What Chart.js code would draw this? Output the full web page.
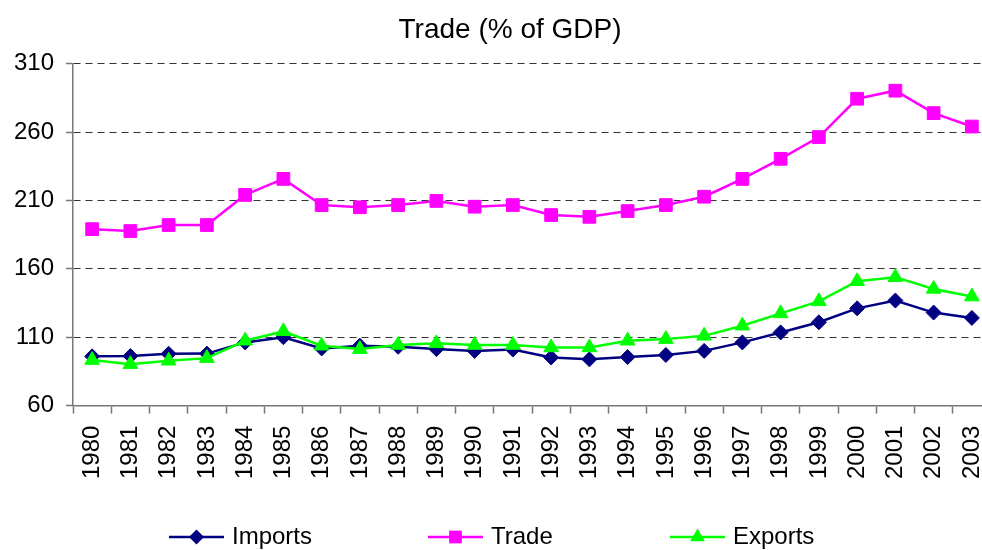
<!DOCTYPE html>
<html>
<head>
<meta charset="utf-8">
<script src="https://cdn.jsdelivr.net/npm/chart.js@4"></script>
<style>
  html, body { margin: 0; padding: 0; background: #fff; overflow: hidden; }
  #wrap { position: relative; width: 991px; height: 550px; }
</style>
</head>
<body>
<div id="wrap"><canvas id="c"></canvas></div>
<script>
const chartTitle = 'Trade (% of GDP)';
const years = ['1980','1981','1982','1983','1984','1985','1986','1987','1988','1989','1990','1991',
               '1992','1993','1994','1995','1996','1997','1998','1999','2000','2001','2002','2003'];
const imports = [96, 96.2, 97.9, 98, 106.2, 110, 101.8, 103.8, 103, 101.3, 100, 101,
                 95.2, 93.8, 95.5, 97, 100, 106.2, 113.5, 120.9, 131.1, 136.8, 128, 124.1];
const trade = [189, 187.6, 192, 192, 214, 225.7, 206.6, 205, 206.6, 209.6, 205.4, 206.6,
               199.3, 198, 202.2, 206.6, 212.7, 225.7, 240.4, 256.3, 284.3, 290.2, 273.8, 264];
const exports_ = [93.3, 90.3, 92.8, 94.7, 107.4, 114.3, 103.8, 101.3, 104.3, 105.5, 104.3, 104.3,
                  102.5, 102.5, 107.4, 108.6, 111, 118.4, 127.4, 136.2, 150.9, 153.9, 145.3, 139.7];
const seriesNames = ['Imports', 'Trade', 'Exports'];
const yTicks = [60, 110, 160, 210, 260, 310];

const FONT = '"Liberation Sans", Arial, sans-serif';

function drawMarker(ctx, style, x, y, r, color) {
  ctx.save();
  ctx.fillStyle = color;
  ctx.beginPath();
  if (style === 'rectRot') {
    ctx.moveTo(x, y - r); ctx.lineTo(x + r, y); ctx.lineTo(x, y + r); ctx.lineTo(x - r, y);
  } else if (style === 'rect') {
    const s = r * Math.SQRT1_2;
    ctx.rect(x - s, y - s, 2 * s, 2 * s);
  } else {
    ctx.moveTo(x, y - r);
    ctx.lineTo(x + r * Math.sin(2 * Math.PI / 3), y + r / 2);
    ctx.lineTo(x - r * Math.sin(2 * Math.PI / 3), y + r / 2);
  }
  ctx.closePath();
  ctx.fill();
  ctx.restore();
}

const legendPlugin = {
  id: 'lineLegend',
  afterLayout(chart) {
    // let the y tick labels extend into the left padding without being clipped
    const y = chart.scales.y;
    if (y) { y.left = 0; }
  },
  afterDraw(chart) {
    const ctx = chart.ctx;
    const cy = 537;
    const lineStarts = [169, 428, 670];
    const lineLen = 55;
    chart.data.datasets.forEach((ds, i) => {
      const x0 = lineStarts[i];
      ctx.save();
      ctx.strokeStyle = ds.borderColor;
      ctx.lineWidth = 2.5;
      ctx.beginPath();
      ctx.moveTo(x0, cy);
      ctx.lineTo(x0 + lineLen, cy);
      ctx.stroke();
      ctx.restore();
      drawMarker(ctx, ds.pointStyle, x0 + lineLen / 2, cy, ds.pointRadius, ds.borderColor);
      ctx.save();
      ctx.fillStyle = '#000';
      ctx.font = '24px ' + FONT;
      ctx.textBaseline = 'middle';
      ctx.textAlign = 'left';
      ctx.fillText(ds.label, x0 + lineLen + 8, cy);
      ctx.restore();
    });
  }
};

const colors = ['#000080', '#FF00FF', '#00FF00'];
const styles = ['rectRot', 'rect', 'triangle'];
const radii = [7.5, 9, 8.5];
const values = [imports, trade, exports_];
const orders = [2, 1, 0];

Chart.defaults.font.family = FONT;
Chart.defaults.color = '#000';

new Chart(document.getElementById('c'), {
  type: 'line',
  data: {
    labels: years,
    datasets: seriesNames.map((name, i) => ({
      label: name,
      data: values[i],
      borderColor: colors[i],
      backgroundColor: colors[i],
      pointBackgroundColor: colors[i],
      pointBorderColor: colors[i],
      pointStyle: styles[i],
      pointRadius: radii[i],
      pointHoverRadius: radii[i],
      pointBorderWidth: 1,
      borderWidth: 2.5,
      tension: 0,
      fill: false,
      order: orders[i]
    }))
  },
  options: {
    responsive: true,
    maintainAspectRatio: false,
    animation: false,
    layout: { autoPadding: false, padding: { left: 29, right: 0, top: 0, bottom: 59 } },
    plugins: {
      legend: { display: false },
      tooltip: { enabled: false },
      title: {
        display: true,
        text: chartTitle,
        color: '#000',
        font: { size: 28, weight: 'normal', family: FONT },
        padding: { top: 13, bottom: 17 }
      }
    },
    scales: {
      x: {
        offset: true,
        afterFit(scale) { scale.paddingLeft = 0; scale.paddingRight = 0; },
        grid: { display: true, drawOnChartArea: false, drawTicks: true, offset: true, tickLength: 8, color: '#777', tickColor: '#777', tickWidth: 1.5 },
        border: { display: true, color: '#777', width: 1.5 },
        ticks: { autoSkip: false, minRotation: 90, maxRotation: 90, padding: 12, font: { size: 24 }, color: '#000' }
      },
      y: {
        min: 60,
        max: 310,
        afterFit(scale) { scale.width = 44; },
        afterBuildTicks(scale) { scale.ticks = yTicks.map(v => ({ value: v })); },
        grid: { display: true, drawOnChartArea: true, drawTicks: true, tickLength: 7, color: '#333', lineWidth: 1, tickColor: '#777', tickWidth: 1.5, tickBorderDash: [] },
        border: { display: true, color: '#777', width: 1.5, dash: [7, 5] },
        ticks: { padding: 12, font: { size: 24 }, color: '#000' }
      }
    }
  },
  plugins: [legendPlugin]
});
</script>
</body>
</html>
